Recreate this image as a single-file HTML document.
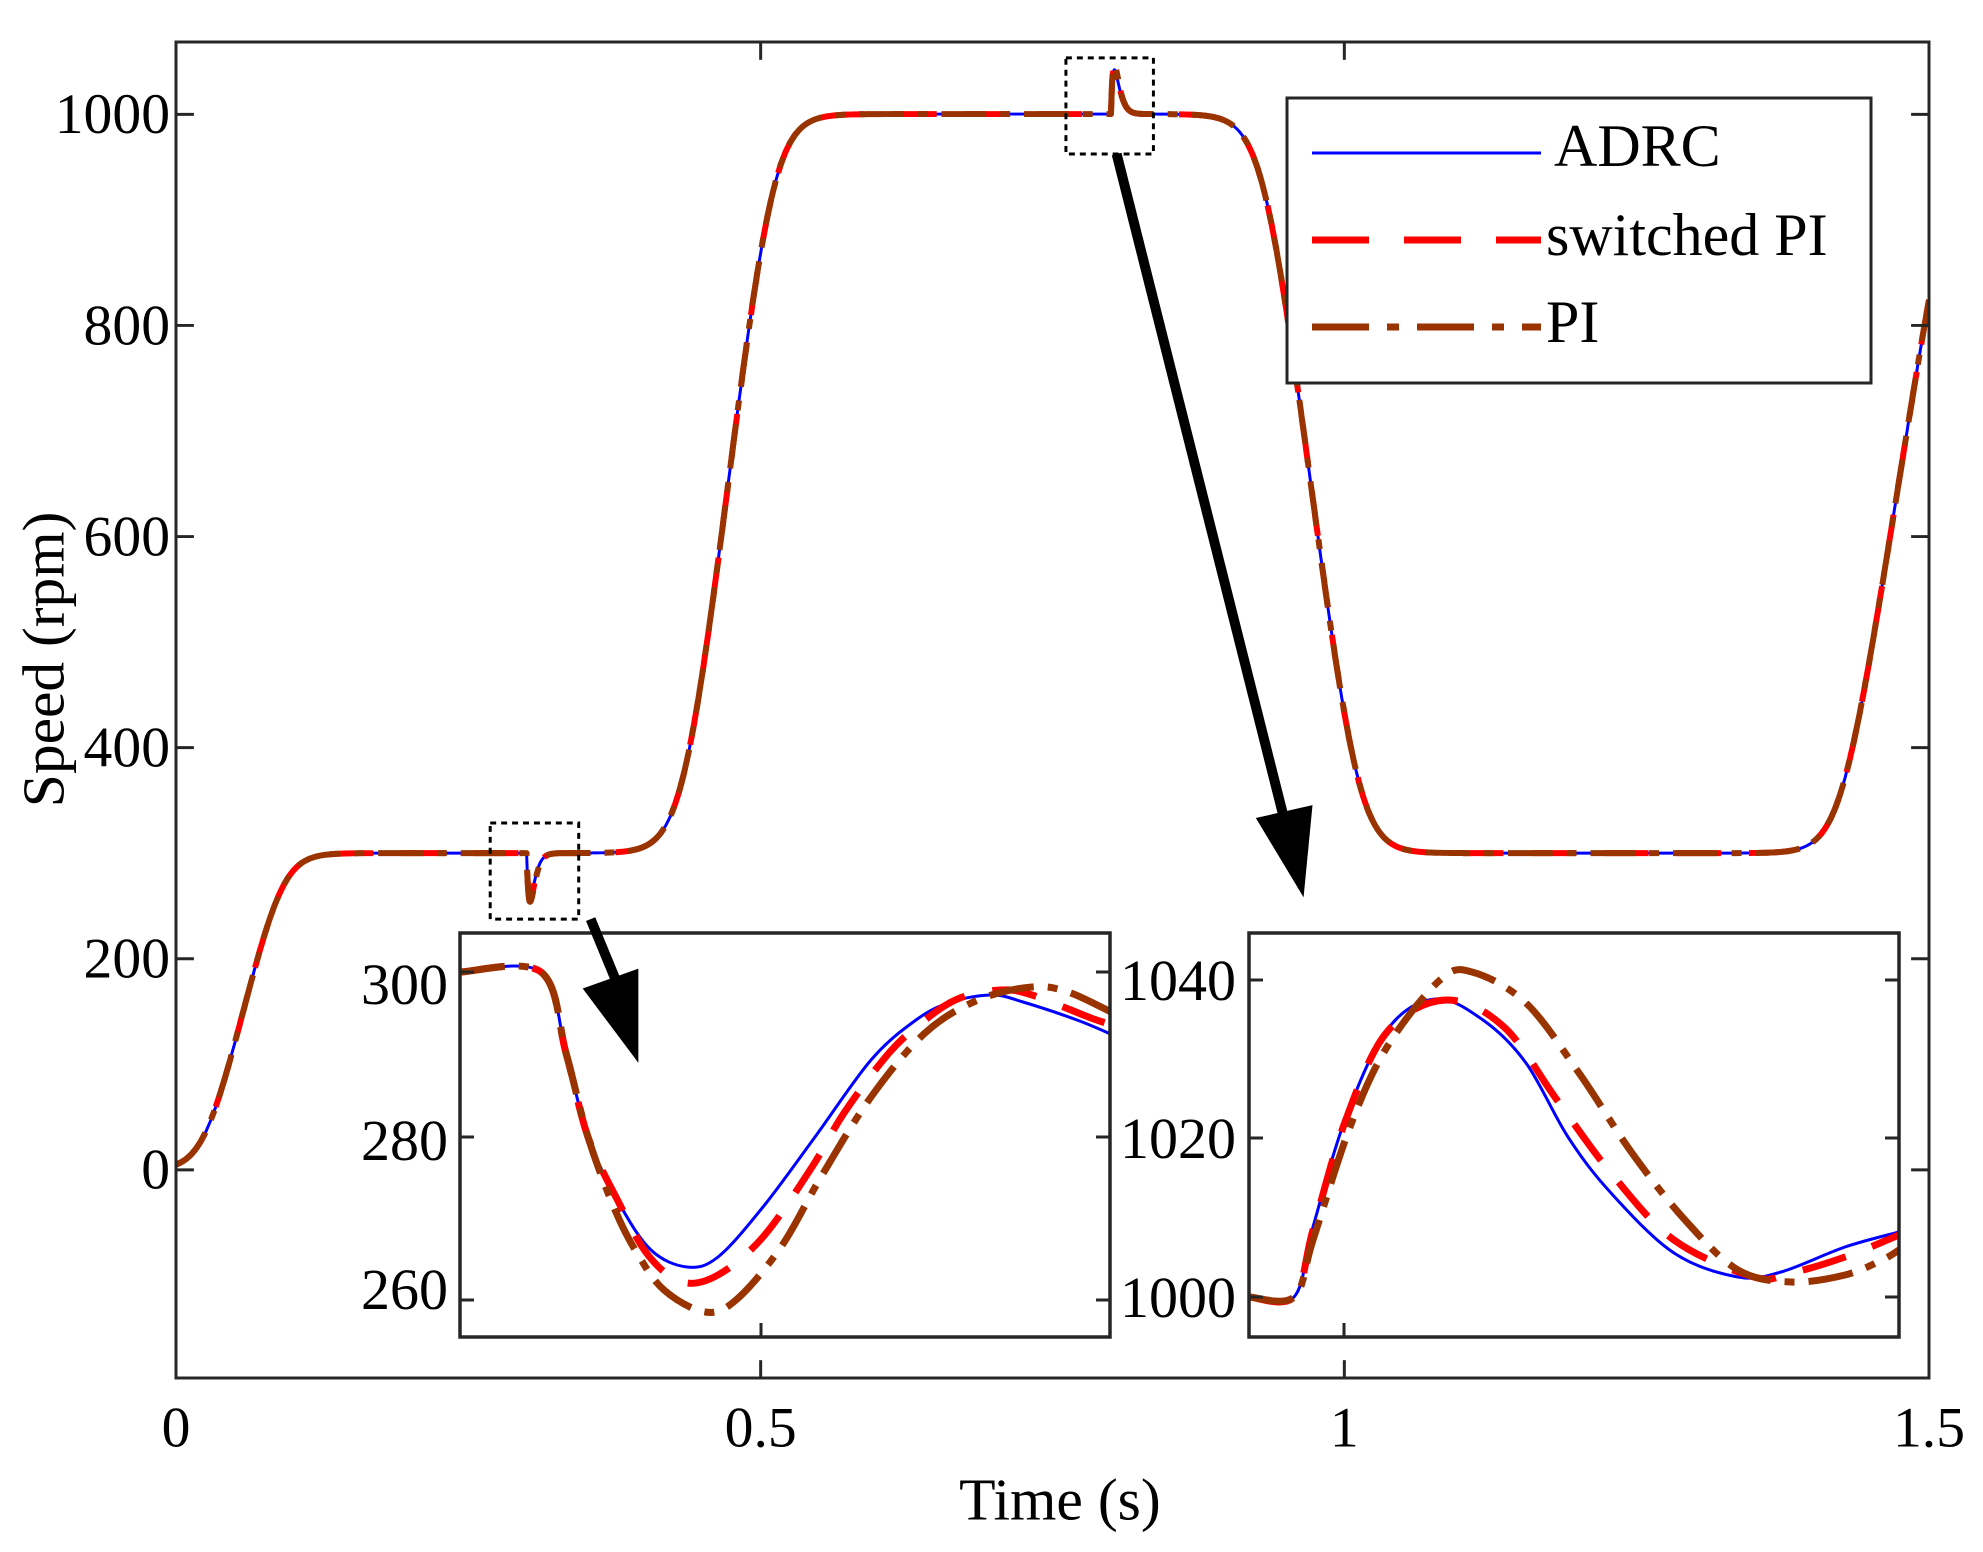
<!DOCTYPE html>
<html><head><meta charset="utf-8"><style>
html,body{margin:0;padding:0;background:#fff;}
svg{display:block;}
text{font-family:"Liberation Serif",serif;fill:#000;}
</style></head><body>
<svg id="s" width="1983" height="1552" viewBox="0 0 1983 1552" xmlns="http://www.w3.org/2000/svg">
<rect width="1983" height="1552" fill="#fff"/>
<defs>
<clipPath id="cm"><rect x="175" y="42" width="1763" height="1348"/></clipPath>
<clipPath id="cl"><rect x="460" y="933" width="650" height="404"/></clipPath>
<clipPath id="cr"><rect x="1249" y="933" width="650" height="404"/></clipPath>
</defs>
<g transform="matrix(0.99433,0,0,0.9911,1.99,0.37)">
<g id="main" clip-path="url(#cm)"></g>
<rect x="175" y="42" width="1763" height="1348" fill="none" stroke="#262626" stroke-width="3"/>
<g stroke="#262626" stroke-width="3">
<line x1="763" y1="1390" x2="763" y2="1372"/><line x1="1350" y1="1390" x2="1350" y2="1372"/>
<line x1="763" y1="42" x2="763" y2="60"/><line x1="1350" y1="42" x2="1350" y2="60"/>
<line x1="175" y1="115" x2="193" y2="115"/><line x1="175" y1="328" x2="193" y2="328"/><line x1="175" y1="541" x2="193" y2="541"/><line x1="175" y1="754" x2="193" y2="754"/><line x1="175" y1="967" x2="193" y2="967"/><line x1="175" y1="1180" x2="193" y2="1180"/>
<line x1="1938" y1="115" x2="1920" y2="115"/><line x1="1938" y1="328" x2="1920" y2="328"/><line x1="1938" y1="541" x2="1920" y2="541"/><line x1="1938" y1="754" x2="1920" y2="754"/><line x1="1938" y1="967" x2="1920" y2="967"/><line x1="1938" y1="1180" x2="1920" y2="1180"/>
</g>
<g font-size="58" text-anchor="end">
<text x="169" y="134">1000</text><text x="169" y="347">800</text><text x="169" y="560">600</text><text x="169" y="773">400</text><text x="169" y="986">200</text><text x="169" y="1199">0</text>
</g>
<g font-size="58" text-anchor="middle">
<text x="175" y="1459">0</text><text x="763" y="1459">0.5</text><text x="1350" y="1459">1</text><text x="1938" y="1459">1.5</text>
</g>
<text x="1064" y="1533" font-size="60" text-anchor="middle">Time (s)</text>
<text transform="translate(62,665) rotate(-90)" font-size="60" text-anchor="middle">Speed (rpm)</text>
<rect x="491" y="830" width="89" height="97" fill="none" stroke="#000" stroke-width="3" stroke-dasharray="6,5"/>
<rect x="1070" y="58" width="88" height="97" fill="none" stroke="#000" stroke-width="3" stroke-dasharray="6,5"/>
<line x1="1121" y1="155" x2="1293" y2="840" stroke="#000" stroke-width="10"/>
<polygon points="1261,825 1318,812 1309,905" fill="#000"/>
</g>
<rect x="460" y="933" width="650" height="404" fill="#fff"/>
<rect x="1249" y="933" width="650" height="404" fill="#fff"/>
<g id="li" clip-path="url(#cl)"></g>
<g id="ri" clip-path="url(#cr)"></g>
<rect x="460" y="933" width="650" height="404" fill="none" stroke="#262626" stroke-width="3.5"/>
<rect x="1249" y="933" width="650" height="404" fill="none" stroke="#262626" stroke-width="3.5"/>
<g stroke="#262626" stroke-width="3">
<line x1="460" y1="972" x2="474" y2="972"/><line x1="460" y1="1137" x2="474" y2="1137"/><line x1="460" y1="1300" x2="474" y2="1300"/>
<line x1="1110" y1="972" x2="1096" y2="972"/><line x1="1110" y1="1137" x2="1096" y2="1137"/><line x1="1110" y1="1300" x2="1096" y2="1300"/>
<line x1="1249" y1="980" x2="1263" y2="980"/><line x1="1249" y1="1138" x2="1263" y2="1138"/><line x1="1249" y1="1297" x2="1263" y2="1297"/>
<line x1="1899" y1="980" x2="1885" y2="980"/><line x1="1899" y1="1138" x2="1885" y2="1138"/><line x1="1899" y1="1297" x2="1885" y2="1297"/>
<line x1="761" y1="1337" x2="761" y2="1323"/>
<line x1="1344" y1="1337" x2="1344" y2="1323"/>
</g>
<g transform="matrix(0.99433,0,0,0.9911,1.99,0.37)">
<line x1="592" y1="927" x2="622" y2="1000" stroke="#000" stroke-width="10"/>
<polygon points="584,997 640,977 640,1072" fill="#000"/>
</g>
<g font-size="58" text-anchor="end">
<text x="448" y="1004">300</text><text x="448" y="1160">280</text><text x="448" y="1309">260</text>
<text x="1236" y="1000">1040</text><text x="1236" y="1158">1020</text><text x="1236" y="1317">1000</text>
</g>
<rect x="1287" y="98" width="584" height="285" fill="#fff" stroke="#262626" stroke-width="3"/>
<line x1="1312" y1="153" x2="1541" y2="153" stroke="#0000ff" stroke-width="3"/>
<line x1="1312" y1="240" x2="1541" y2="240" stroke="#ff0000" stroke-width="7" stroke-dasharray="57,35"/>
<line x1="1312" y1="327" x2="1541" y2="327" stroke="#993300" stroke-width="7" stroke-dasharray="57,18,12,18"/>
<g font-size="60">
<text x="1554" y="166">ADRC</text><text x="1546" y="255">switched PI</text><text x="1546" y="342">PI</text>
</g>
</svg>
<script>
(function(){
var NS="http://www.w3.org/2000/svg";
function sp(x){return x>30?x:Math.log(1+Math.exp(x));}
function ramp(t,ts,te,w){return (sp((t-ts)/w)-sp((t-te)/w))*w/(te-ts);}
function v(t,k){
 var y=300*ramp(t,0.025,0.09,0.011);
 y+=700*ramp(t,0.435,0.51,0.012);
 y-=700*ramp(t,0.931,1.011,0.012);
 y+=700*ramp(t,1.425,1.523,0.012);
 var d=t-0.3; if(d>0){y+=-42*(d/0.003)*Math.exp(1-d/0.003)*(1+0.05*k);}
 var e=t-0.8; if(e>0){y+=42*(e/0.003)*Math.exp(1-e/0.003)*(1+0.05*k);}
 return y;
}
function X(t){return 175+t*1175.33;}
function Y(val){return 1180-val*1.0653;}
function mk(g,d,stroke,w,dash){var p=document.createElementNS(NS,"path");p.setAttribute("d",d);p.setAttribute("fill","none");p.setAttribute("stroke",stroke);p.setAttribute("stroke-width",w);p.setAttribute("stroke-linejoin","round");if(dash)p.setAttribute("stroke-dasharray",dash);g.appendChild(p);}
var gm=document.getElementById("main");
function mainPath(k){var d="";for(var i=0;i<=3000;i++){var t=i*0.0005;d+=(i?"L":"M")+X(t).toFixed(1)+","+Y(v(t,k)).toFixed(1);}return d;}
mk(gm,mainPath(0),"#0000ff",3);
mk(gm,mainPath(1),"#ff0000",6,"45,28");
mk(gm,mainPath(2),"#993300",6,"45,14,10,14");
function cr(pts){var d="M"+pts[0][0]+","+pts[0][1];for(var i=0;i<pts.length-1;i++){var p0=pts[i>0?i-1:0],p1=pts[i],p2=pts[i+1],p3=pts[i+2<pts.length?i+2:i+1];var c1x=p1[0]+(p2[0]-p0[0])/6,c1y=p1[1]+(p2[1]-p0[1])/6,c2x=p2[0]-(p3[0]-p1[0])/6,c2y=p2[1]-(p3[1]-p1[1])/6;d+="C"+c1x.toFixed(1)+","+c1y.toFixed(1)+" "+c2x.toFixed(1)+","+c2y.toFixed(1)+" "+p2[0]+","+p2[1];}return d;}
var gl=document.getElementById("li");
var lb=[[460,972],[541,972],[566,1053],[588,1137],[619,1203],[651,1250],[687,1267],[718,1257],[763,1207],[815,1137],[871,1060],[916,1020],[951,1002],[992,995],[1023,1002],[1077,1020],[1113,1035]];
var lr=[[460,972],[541,972],[566,1053],[588,1137],[619,1203],[648,1255],[682,1282],[718,1275],[763,1237],[812,1167],[844,1113],[889,1053],[925,1020],[960,998],[1001,990],[1032,995],[1091,1018],[1113,1025]];
var lp=[[460,972],[541,972],[566,1053],[588,1137],[615,1210],[637,1253],[664,1290],[705,1312],[736,1300],[781,1247],[821,1177],[871,1097],[925,1033],[978,1000],[1032,987],[1068,992],[1113,1013]];
mk(gl,cr(lb),"#0000ff",3);
mk(gl,cr(lr),"#ff0000",7,"45,28");
mk(gl,cr(lp),"#993300",7,"45,14,10,14");
var gr=document.getElementById("ri");
var rb=[[1249,1297],[1294,1297],[1313,1227],[1345,1120],[1387,1030],[1435,999],[1483,1020],[1526,1063],[1568,1137],[1611,1193],[1674,1253],[1738,1277],[1781,1272],[1845,1247],[1899,1232]];
var rr=[[1249,1297],[1294,1297],[1313,1230],[1345,1122],[1387,1032],[1446,1000],[1504,1027],[1557,1100],[1611,1173],[1674,1240],[1754,1277],[1791,1273],[1845,1257],[1899,1235]];
var rp=[[1249,1297],[1294,1297],[1313,1240],[1350,1127],[1387,1047],[1440,980],[1472,972],[1526,1003],[1579,1073],[1632,1153],[1685,1220],[1738,1270],[1791,1282],[1845,1275],[1882,1260],[1899,1250]];
mk(gr,cr(rb),"#0000ff",3);
mk(gr,cr(rr),"#ff0000",7,"45,28");
mk(gr,cr(rp),"#993300",7,"45,14,10,14");
})();
</script>
</body></html>
